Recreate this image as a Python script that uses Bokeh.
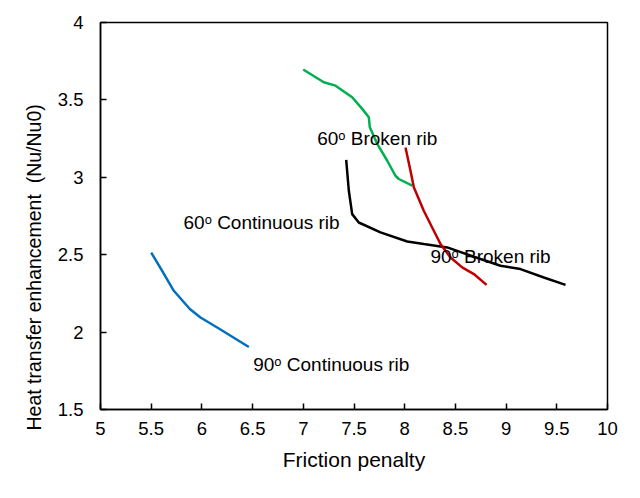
from bokeh.plotting import figure
from bokeh.models import Range1d, FixedTicker, Title, ColumnDataSource
from bokeh.core.properties import value
from bokeh.embed import file_html
from bokeh.resources import INLINE

# ---- data ----
x_ticks = [5, 5.5, 6, 6.5, 7, 7.5, 8, 8.5, 9, 9.5, 10]
x_tick_labels = ["5", "5.5", "6", "6.5", "7", "7.5", "8", "8.5", "9", "9.5", "10"]
y_ticks = [1.5, 2, 2.5, 3, 3.5, 4]
y_tick_labels = ["1.5", "2", "2.5", "3", "3.5", "4"]

cont90_x = [5.500, 5.608, 5.723, 5.881, 5.986, 6.151, 6.463]
cont90_y = [2.514, 2.396, 2.267, 2.149, 2.094, 2.030, 1.904]

cont60_x = [7.423, 7.449, 7.482, 7.547, 7.761, 8.025, 8.188, 8.419, 8.748, 8.945, 9.142, 9.372, 9.586]
cont60_y = [3.112, 2.913, 2.762, 2.708, 2.644, 2.585, 2.569, 2.547, 2.472, 2.429, 2.407, 2.353, 2.305]

brok60_x = [6.999, 7.202, 7.318, 7.482, 7.581, 7.646, 7.656, 7.729, 7.828, 7.909, 7.942, 8.074]
brok60_y = [3.696, 3.614, 3.592, 3.517, 3.442, 3.388, 3.323, 3.216, 3.107, 3.010, 2.989, 2.946]

brok90_x = [8.008, 8.057, 8.090, 8.188, 8.287, 8.353, 8.452, 8.567, 8.682, 8.807]
brok90_y = [3.193, 3.043, 2.935, 2.784, 2.655, 2.569, 2.482, 2.418, 2.375, 2.305]

label_text = ["60\u1d52 Broken rib", "60\u1d52 Continuous rib", "90\u1d52 Broken rib", "90\u1d52 Continuous rib"]
label_x = [7.137, 5.819, 8.254, 6.506]
label_y = [3.253, 2.705, 2.486, 1.793]

x_title = "Friction penalty"
y_title = "Heat transfer enhancement\u00a0 (Nu/Nu0)"

FONT = "Liberation Sans"

p = figure(width=624, height=482, output_backend="svg", toolbar_location=None,
           x_range=Range1d(5, 10), y_range=Range1d(1.5, 4),
           min_border_left=100, min_border_right=17, min_border_top=22, min_border_bottom=73)

p.background_fill_color = "white"
p.border_fill_color = "white"
p.outline_line_color = "black"
p.outline_line_width = 1.5
p.xgrid.visible = False
p.ygrid.visible = False

for ax, ticks, labels in ((p.xaxis, x_ticks, x_tick_labels), (p.yaxis, y_ticks, y_tick_labels)):
    ax.ticker = FixedTicker(ticks=ticks)
    ax.major_label_overrides = {t: l for t, l in zip(ticks, labels)}
    ax.axis_line_color = "black"
    ax.axis_line_width = 1.5
    ax.major_tick_line_color = "black"
    ax.major_tick_line_width = 1.5
    ax.major_tick_in = 6
    ax.major_tick_out = 0
    ax.minor_tick_line_color = None
    ax.major_label_text_font = FONT
    ax.major_label_text_font_size = "18.5px"
    ax.major_label_text_color = "black"

p.xaxis.major_label_standoff = 12
p.yaxis.major_label_standoff = 17

p.xaxis.axis_label = x_title
p.xaxis.axis_label_text_font = FONT
p.xaxis.axis_label_text_font_size = "21px"
p.xaxis.axis_label_text_font_style = "normal"
p.xaxis.axis_label_text_color = "black"
p.xaxis.axis_label_standoff = 10

ytitle = Title(text=y_title, align="left", offset=-21, standoff=20,
               text_font=FONT, text_font_size="19.5px", text_font_style="normal",
               text_color="black")
p.add_layout(ytitle, "left")

p.line(cont90_x, cont90_y, line_color="#0070C0", line_width=2.5)
p.line(cont60_x, cont60_y, line_color="black", line_width=2.5)
p.line(brok60_x, brok60_y, line_color="#00B050", line_width=2.5)
p.line(brok90_x, brok90_y, line_color="#C00000", line_width=2.5)

src = ColumnDataSource(dict(x=label_x, y=label_y, t=label_text))
p.text(x="x", y="y", text="t", source=src, text_font=value(FONT), text_font_size="19px",
       text_color="black", text_align="left", text_baseline="alphabetic")

open("out.html", "w").write(file_html(p, INLINE))
